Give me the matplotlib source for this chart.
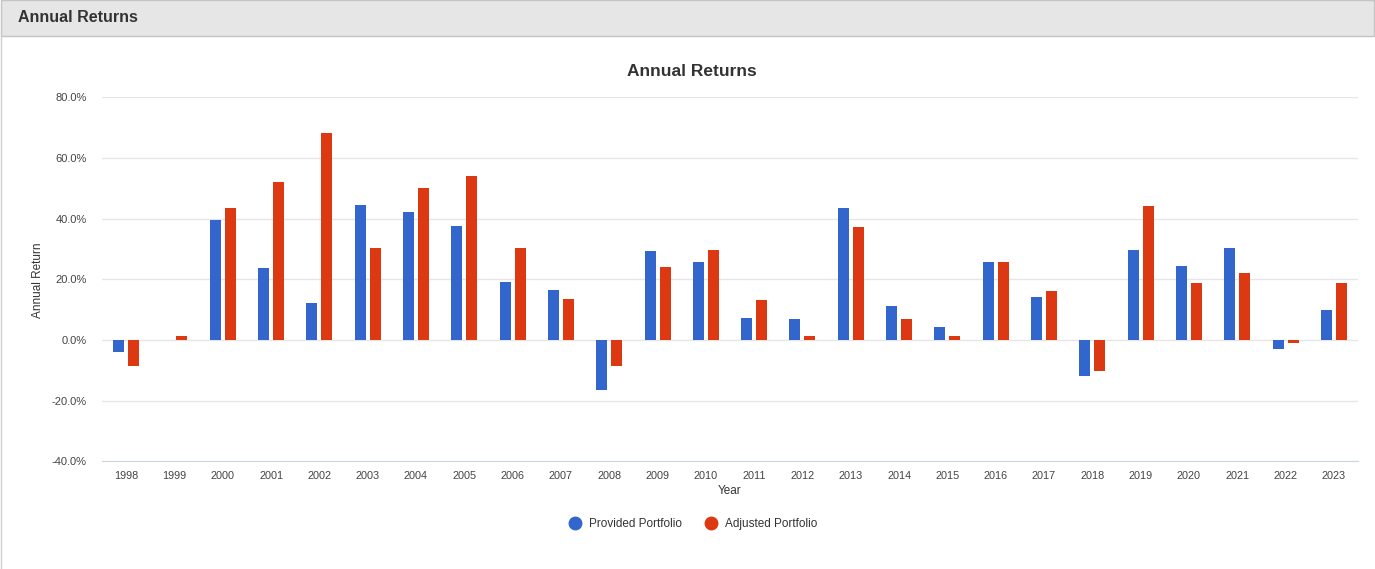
import numpy as np
import matplotlib
matplotlib.use('Agg')
import matplotlib.pyplot as plt
from matplotlib.patches import Rectangle
from matplotlib.lines import Line2D

plt.rcParams['font.family'] = ['Liberation Sans', 'DejaVu Sans']

years = [str(y) for y in range(1998, 2024)]
provided = [-4.0, 0.0, 39.6, 23.7, 12.2, 44.5, 42.2, 37.6, 19.1, 16.5,
            -16.5, 29.3, 25.7, 7.3, 6.9, 43.5, 11.2, 4.3, 25.7, 14.2,
            -11.9, 29.7, 24.4, 30.3, -3.0, 9.9]
adjusted = [-8.6, 1.3, 43.5, 52.1, 68.2, 30.3, 50.1, 54.1, 30.3, 13.5,
            -8.6, 24.1, 29.7, 13.2, 1.3, 37.3, 6.9, 1.3, 25.7, 16.2,
            -10.2, 44.2, 18.8, 22.1, -1.0, 18.8]
series_names = ['Provided Portfolio', 'Adjusted Portfolio']
colors = ['#3366cc', '#dc3912']
yticks = [-40, -20, 0, 20, 40, 60, 80]

fig = plt.figure(figsize=(13.75, 5.69), dpi=100)

# panel header
fig.add_artist(Rectangle((0.001, 1 - 36 / 569), 0.998, 36 / 569, transform=fig.transFigure,
                         facecolor='#e6e6e6', edgecolor='#c4c4c4', linewidth=1))
fig.add_artist(Line2D([0.001, 0.001], [0, 1 - 36 / 569], transform=fig.transFigure,
                      color='#d0d0d0', linewidth=1))
fig.text(18 / 1375, 1 - 18 / 569, 'Annual Returns', fontsize=11.5, fontweight='bold',
         color='#333333', ha='left', va='center')

ax = fig.add_axes([102 / 1375, 1 - 461.3 / 569, 1256 / 1375, 364 / 569])
x = np.arange(len(years))
w = 0.228
ax.bar(x - 0.155, provided, width=w, color=colors[0], zorder=3)
ax.bar(x + 0.155, adjusted, width=w, color=colors[1], zorder=3)

ax.set_xlim(-0.5, len(years) - 0.5)
ax.set_ylim(-40, 80)
ax.set_yticks(yticks)
ax.set_yticklabels([f'{v:.1f}%' for v in yticks])
ax.set_xticks(x)
ax.set_xticklabels(years)
ax.tick_params(axis='both', length=0, colors='#444444')
ax.tick_params(axis='y', labelsize=8, pad=11)
ax.tick_params(axis='x', labelsize=7.8, pad=7)
ax.grid(axis='y', color='#e6e6e6', linewidth=1, zorder=0)
for s in ['top', 'left', 'right']:
    ax.spines[s].set_visible(False)
ax.spines['bottom'].set_color('#ccd6e0')
ax.set_xlabel('Year', fontsize=8.5, color='#333333', labelpad=3)
fig.text(38 / 1375, 1 - 280 / 569, 'Annual Return', rotation=90, fontsize=8.5,
         color='#333333', ha='center', va='center')

fig.text(0.503, 1 - 71 / 569, 'Annual Returns', fontsize=12.5, fontweight='bold',
         color='#333333', ha='center', va='center')

handles = [Line2D([], [], marker='o', linestyle='', markersize=9, color=c) for c in colors]
fig.legend(handles, series_names, loc='center', bbox_to_anchor=(0.502, 1 - 524 / 569),
           ncol=2, frameon=False, fontsize=8.5, handletextpad=0.15, columnspacing=1.5,
           labelcolor='#333333')

fig.savefig('out.png', dpi=100)
